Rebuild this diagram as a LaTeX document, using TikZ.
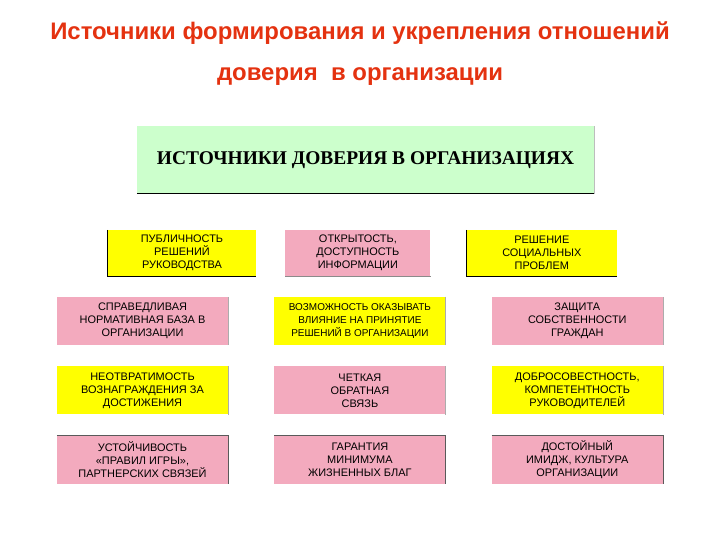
\documentclass[tikz,border=0pt]{standalone}
\usepackage{fontspec}
\setmainfont{Liberation Sans}
\newfontfamily\headfont{Liberation Serif}
\usetikzlibrary{positioning}
\definecolor{titlered}{RGB}{228,50,16}
\definecolor{boxyellow}{RGB}{255,255,0}
\definecolor{boxpink}{RGB}{243,170,190}
\definecolor{headgreen}{RGB}{204,255,204}
\definecolor{edgegray}{RGB}{90,90,90}

\begin{document}
\begin{tikzpicture}[x=1bp, y=-1bp, node distance=21bp and 46bp,
  srcbox/.style={rectangle, inner sep=0pt, minimum width=171bp, minimum height=48bp,
    align=center, font=\fontsize{11}{13}\selectfont},
  yellowsrc/.style={srcbox, fill=boxyellow},
  pinksrc/.style={srcbox, fill=boxpink},
  topsrc/.style={minimum height=46bp}]

\useasboundingbox (0,0) rectangle (720,540);

% title
\node[text=titlered, font=\bfseries\fontsize{24}{28}\selectfont] (title1) at (360,33) {Источники формирования и укрепления отношений};
\node[text=titlered, font=\bfseries\fontsize{24}{28}\selectfont] (title2) at (360,77) {доверия \ в организации};

% header
\node[rectangle, fill=headgreen, minimum width=457bp, minimum height=67bp, inner sep=0pt,
  font=\headfont\bfseries\fontsize{19.5}{23}\selectfont] (head) at (365.5,160) {ИСТОЧНИКИ ДОВЕРИЯ В ОРГАНИЗАЦИЯХ};

% first row
\node[yellowsrc, topsrc, minimum width=148bp] (pub) at (182,253) {ПУБЛИЧНОСТЬ\\РЕШЕНИЙ\\РУКОВОДСТВА};
\node[pinksrc, topsrc, minimum width=145bp, right=29bp of pub] (open) {ОТКРЫТОСТЬ,\\ДОСТУПНОСТЬ\\ИНФОРМАЦИИ};
\node[yellowsrc, topsrc, minimum width=150bp, right=36bp of open] (social) {РЕШЕНИЕ\\СОЦИАЛЬНЫХ\\ПРОБЛЕМ};

% grid
\node[pinksrc] (norm) at (142.5,321) {СПРАВЕДЛИВАЯ\\НОРМАТИВНАЯ БАЗА В\\ОРГАНИЗАЦИИ};
\node[yellowsrc, right=of norm, font=\fontsize{10}{13}\selectfont] (influence) {ВОЗМОЖНОСТЬ ОКАЗЫВАТЬ\\ВЛИЯНИЕ НА ПРИНЯТИЕ\\РЕШЕНИЙ В ОРГАНИЗАЦИИ};
\node[pinksrc, right=of influence] (protect) {ЗАЩИТА\\СОБСТВЕННОСТИ\\ГРАЖДАН};

\node[yellowsrc, below=of norm] (inevit) {НЕОТВРАТИМОСТЬ\\ВОЗНАГРАЖДЕНИЯ ЗА\\ДОСТИЖЕНИЯ};
\node[pinksrc, right=of inevit] (feedback) {ЧЕТКАЯ\\ОБРАТНАЯ\\СВЯЗЬ};
\node[yellowsrc, right=of feedback] (honest) {ДОБРОСОВЕСТНОСТЬ,\\КОМПЕТЕНТНОСТЬ\\РУКОВОДИТЕЛЕЙ};

\node[pinksrc, below=of inevit] (stable) {УСТОЙЧИВОСТЬ\\«ПРАВИЛ ИГРЫ»,\\ПАРТНЕРСКИХ СВЯЗЕЙ};
\node[pinksrc, right=of stable] (minimum) {ГАРАНТИЯ\\МИНИМУМА\\ЖИЗНЕННЫХ БЛАГ};
\node[pinksrc, right=of minimum] (image) {ДОСТОЙНЫЙ\\ИМИДЖ, КУЛЬТУРА\\ОРГАНИЗАЦИИ};

% edges
\draw[line width=1.2bp] (head.south west) -- (head.south east);
\draw[edgegray!40] (head.north east) -- (head.south east);
\foreach \n in {pub,social}
  \draw[line width=1bp] (\n.north west) -- (\n.south west) -- (\n.south east);
\draw[edgegray!70] (open.south west) -- (open.south east);
\foreach \n in {norm,influence,protect,inevit,feedback,honest}
  \draw[edgegray!50] (\n.north east) -- (\n.south east);
\foreach \n in {stable,minimum,image}
  \draw[edgegray] (\n.north west) -- (\n.north east) -- (\n.south east);

\end{tikzpicture}
\end{document}
